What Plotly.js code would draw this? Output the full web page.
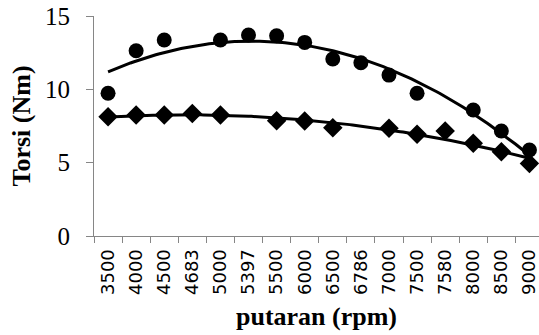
<!DOCTYPE html>
<html><head><meta charset="utf-8">
<script src="https://cdn.plot.ly/plotly-3.0.1.min.js"></script>
<style>html,body{margin:0;padding:0;background:#fff}#chart{width:539px;height:335px}</style>
</head><body><div id="chart"></div>
<script>
const categories = ["3500","4000","4500","4683","5000","5397","5500","6000","6500","6786","7000","7500","7580","8000","8500","9000"];
const torsiA = [9.73,12.63,13.36,null,13.36,13.7,13.65,13.2,12.07,11.81,10.97,9.73,null,8.59,7.16,5.86];
const torsiB = [8.13,8.25,8.25,8.36,8.25,null,7.86,7.84,7.38,null,7.34,6.93,7.16,6.32,5.75,4.95];

// Excel-style polynomial (order 2) trendline fitted to each series
function polyfit(vals, order){
  const xs=[], ys=[];
  vals.forEach((v,i)=>{ if(v!==null){ xs.push(i+1); ys.push(v);} });
  const n=order+1, A=[], b=[];
  for(let r=0;r<n;r++){ A.push([]); for(let c=0;c<n;c++){ let s=0; xs.forEach(x=>s+=Math.pow(x,r+c)); A[r].push(s);} let t=0; xs.forEach((x,k)=>t+=ys[k]*Math.pow(x,r)); b.push(t); }
  for(let i=0;i<n;i++){ let p=i; for(let j=i+1;j<n;j++) if(Math.abs(A[j][i])>Math.abs(A[p][i])) p=j;
    [A[i],A[p]]=[A[p],A[i]]; [b[i],b[p]]=[b[p],b[i]];
    for(let j=i+1;j<n;j++){ const f=A[j][i]/A[i][i]; for(let k=i;k<n;k++) A[j][k]-=f*A[i][k]; b[j]-=f*b[i]; } }
  const c=new Array(n).fill(0);
  for(let i=n-1;i>=0;i--){ let s=b[i]; for(let k=i+1;k<n;k++) s-=A[i][k]*c[k]; c[i]=s/A[i][i]; }
  const tx=[], ty=[];
  for(let x=0;x<=categories.length-1+1e-9;x+=0.1){ tx.push(x); let y=0; c.forEach((ci,k)=>y+=ci*Math.pow(x+1,k)); ty.push(y); }
  return {x:tx,y:ty};
}
const idx = categories.map((_,i)=>i);
const traces=[];
[torsiA,torsiB].forEach(s=>{ const f=polyfit(s,2); traces.push({x:f.x,y:f.y,mode:'lines',line:{color:'#000',width:3},showlegend:false,hoverinfo:'skip'}); });
traces.push({x:idx,y:torsiA,mode:'markers',marker:{symbol:'circle',size:15,color:'#000'},showlegend:false});
traces.push({x:idx,y:torsiB,mode:'markers',marker:{symbol:'diamond',size:15,color:'#000'},showlegend:false});

const axisGray='#868686';
const layout={
  width:539,height:335,margin:{l:94,r:0,t:16,b:99},
  paper_bgcolor:'#fff',plot_bgcolor:'#fff',showlegend:false,
  xaxis:{range:[-0.5,15.34],tickmode:'array',tickvals:idx,ticktext:categories,tickangle:-90,ticks:'',
    ticklabeloverflow:'allow',ticklabelstandoff:5,
    showline:true,linecolor:axisGray,linewidth:1,showgrid:false,zeroline:false,
    tickfont:{family:'DejaVu Sans',size:18,color:'#000'},
    minor:{tickmode:'array',tickvals:idx.map(i=>i-0.5).concat([15.5]),ticks:'outside',ticklen:6,tickcolor:axisGray,tickwidth:1},
    title:{text:'<b>putaran (rpm)</b>',font:{family:'Liberation Serif',size:26,color:'#000'},standoff:12}},
  yaxis:{range:[0,15],tickvals:[0,5,10,15],ticks:'outside',ticklen:7,tickcolor:axisGray,
    ticklabelstandoff:11,
    showline:true,linecolor:axisGray,linewidth:1,showgrid:false,zeroline:false,
    tickfont:{family:'Liberation Serif',size:25,color:'#000'},
    title:{text:'<b>Torsi (Nm)</b>',font:{family:'Liberation Serif',size:26,color:'#000'},standoff:6}}
};
Plotly.newPlot('chart',traces,layout,{staticPlot:true});
</script></body></html>
